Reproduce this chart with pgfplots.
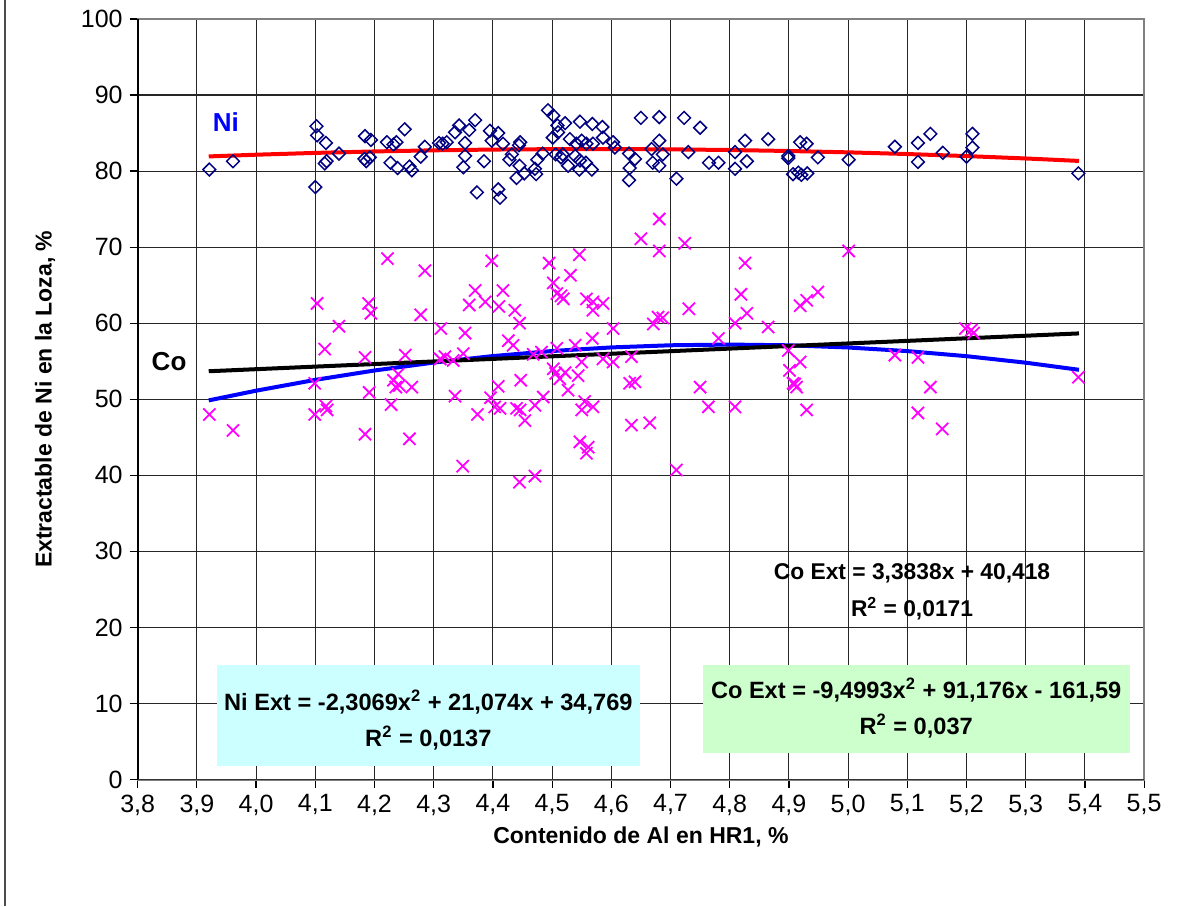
\documentclass[border=0pt]{standalone}
\usepackage{fontspec}
\setmainfont{Liberation Sans}
\usepackage{pgfplots}
\pgfplotsset{compat=1.18}
\definecolor{navyd}{HTML}{000080}
\definecolor{magx}{HTML}{FF00FF}
\definecolor{cyanbox}{HTML}{CCFFFF}
\definecolor{greenbox}{HTML}{CCFFCC}
\begin{document}
\begin{tikzpicture}
\begin{axis}[
  at={(0pt,0pt)}, anchor=south west,
  scale only axis, width=503.2pt, height=380.25pt,
  xmin=3.8, xmax=5.5, ymin=0, ymax=100,
  xtick={3.8,3.9,4.0,4.1,4.2,4.3,4.4,4.5,4.6,4.7,4.8,4.9,5.0,5.1,5.2,5.3,5.4,5.5},
  ytick={0,10,20,30,40,50,60,70,80,90,100},
  xtick pos=bottom, ytick pos=left,
  tick align=outside, major tick length=4pt,
  /pgf/number format/assume math mode=true,
  xticklabel style={/pgf/number format/.cd, fixed, fixed zerofill, precision=1, use comma, assume math mode=true},
  yticklabel style={/pgf/number format/.cd, fixed, precision=0, assume math mode=true},
  tick label style={font=\fontsize{12.5}{14}\selectfont, black},
  tick style={black, line width=0.6pt},
  grid=major,
  major grid style={black!85, line width=0.55pt},
  axis line style={black!50, line width=1pt},
  xlabel={Contenido de Al en HR1, \%},
  ylabel={Extractable de Ni en la Loza, \%},
  label style={font=\bfseries\fontsize{11.5}{13}\selectfont},
  xlabel style={at={(axis description cs:0.5,-0.0761)}, anchor=center},
  ylabel style={at={(axis description cs:-0.092,0.5)}, anchor=center},
  clip=false,
]
% Ni data
\addplot[only marks, mark=square, mark size=2.25pt, mark options={rotate=45, draw=navyd, line width=0.75pt, fill=none}] coordinates {
(3.921,80.2)(3.961,81.3)(4.102,85.9)(4.103,84.7)(4.118,83.7)(4.100,77.9)(4.119,81.3)(4.116,81.0)
(4.140,82.3)(4.184,84.6)(4.194,84.1)(4.183,81.6)(4.192,81.8)(4.186,81.3)(4.221,83.8)(4.237,83.8)
(4.232,83.5)(4.251,85.5)(4.227,81.1)(4.239,80.4)(4.259,80.6)(4.263,80.1)(4.278,81.9)(4.285,83.2)
(4.309,83.7)(4.315,83.6)(4.322,83.8)(4.336,85.1)(4.343,86.0)(4.370,86.7)(4.360,85.4)(4.353,83.7)
(4.353,82.0)(4.350,80.5)(4.373,77.2)(4.385,81.3)(4.398,84.0)(4.395,85.3)(4.409,85.0)(4.417,83.6)
(4.409,77.6)(4.412,76.5)(4.446,83.8)(4.444,83.4)(4.432,82.2)(4.428,81.5)(4.445,80.7)(4.453,79.7)
(4.440,79.1)(4.471,80.3)(4.473,79.6)(4.475,81.5)(4.484,82.3)(4.493,88.0)(4.502,87.3)(4.509,86.0)
(4.501,84.4)(4.510,85.1)(4.522,86.3)(4.506,82.2)(4.515,81.8)(4.518,82.2)(4.527,80.7)(4.530,84.2)
(4.547,86.5)(4.568,86.2)(4.585,85.8)(4.541,83.6)(4.550,84.0)(4.558,83.6)(4.569,83.6)(4.539,82.0)
(4.547,81.4)(4.557,81.1)(4.546,80.2)(4.567,80.2)(4.586,84.4)(4.603,83.8)(4.606,83.1)(4.630,82.3)
(4.640,81.6)(4.631,80.4)(4.630,78.8)(4.650,87.0)(4.681,87.1)(4.681,84.0)(4.668,82.9)(4.687,82.2)
(4.670,81.1)(4.681,80.7)(4.710,79.0)(4.723,87.0)(4.730,82.5)(4.750,85.7)(4.765,81.1)(4.781,81.1)
(4.809,82.5)(4.809,80.3)(4.826,84.0)(4.829,81.3)(4.865,84.2)(4.899,82.0)(4.899,81.7)(4.919,83.8)
(4.930,83.6)(4.949,81.8)(4.907,79.6)(4.916,79.8)(4.921,79.5)(4.931,79.7)(5.001,81.5)(5.079,83.2)
(5.118,83.7)(5.118,81.2)(5.139,84.9)(5.160,82.4)(5.200,81.9)(5.210,84.9)(5.210,83.1)(5.389,79.7)
};
% Co data
\addplot[only marks, mark=x, mark size=4.3pt, mark options={draw=magx, line width=0.9pt}] coordinates {
(3.921,48.0)(3.961,45.9)(4.103,62.6)(4.116,56.6)(4.099,52.1)(4.099,48.0)(4.118,49.1)(4.120,48.6)
(4.140,59.6)(4.222,68.5)(4.285,66.9)(4.190,62.6)(4.194,61.3)(4.184,55.5)(4.191,50.9)(4.228,49.3)
(4.184,45.4)(4.259,44.8)(4.252,55.8)(4.232,52.5)(4.240,53.3)(4.236,51.6)(4.242,51.8)(4.263,51.6)
(4.278,61.1)(4.312,59.3)(4.311,55.3)(4.319,55.6)(4.333,55.1)(4.350,56.0)(4.353,58.7)(4.336,50.4)
(4.370,64.3)(4.360,62.4)(4.387,62.8)(4.398,68.2)(4.374,48.0)(4.349,41.2)(4.396,50.2)(4.417,64.3)
(4.410,62.2)(4.437,61.7)(4.445,60.0)(4.426,57.7)(4.434,57.1)(4.409,51.7)(4.403,49.0)(4.412,48.8)
(4.447,52.5)(4.440,48.8)(4.446,48.6)(4.454,47.2)(4.471,49.2)(4.485,50.3)(4.445,39.1)(4.471,39.9)
(4.495,67.9)(4.502,65.3)(4.508,63.9)(4.519,63.2)(4.515,63.6)(4.546,69.0)(4.531,66.3)(4.558,63.2)
(4.569,62.8)(4.586,62.6)(4.569,61.7)(4.468,55.9)(4.482,56.2)(4.508,56.7)(4.539,57.1)(4.568,58.0)
(4.502,54.0)(4.513,52.7)(4.522,53.5)(4.506,53.4)(4.550,54.9)(4.544,53.1)(4.527,51.2)(4.586,55.3)
(4.603,59.3)(4.603,54.9)(4.634,55.6)(4.555,49.7)(4.550,48.6)(4.569,49.0)(4.631,52.1)(4.640,52.3)
(4.634,46.6)(4.665,46.9)(4.547,44.4)(4.561,43.7)(4.558,42.9)(4.650,71.1)(4.681,73.7)(4.681,69.5)
(4.724,70.5)(4.731,61.9)(4.671,59.9)(4.679,60.8)(4.687,60.7)(4.710,40.7)(4.750,51.6)(4.764,49.0)
(4.781,58.0)(4.809,60.0)(4.819,63.8)(4.829,61.3)(4.826,67.9)(4.809,49.0)(4.865,59.5)(4.901,53.8)
(4.899,56.4)(4.919,54.9)(4.907,52.1)(4.913,51.6)(4.910,52.0)(4.930,48.6)(4.919,62.3)(4.930,63.0)
(4.949,64.1)(5.001,69.5)(5.079,55.8)(5.118,55.5)(5.139,51.6)(5.118,48.2)(5.159,46.1)(5.198,59.3)
(5.208,59.1)(5.212,58.7)(5.389,52.9)
};
% Ni polynomial trend (values typed)
\addplot[red, line width=2pt] coordinates {
(3.92,81.930)(4.0,82.155)(4.1,82.393)(4.2,82.586)(4.3,82.732)(4.4,82.833)(4.5,82.887)(4.6,82.895)
(4.7,82.858)(4.8,82.773)(4.9,82.643)(5.0,82.466)(5.1,82.244)(5.2,81.975)(5.3,81.661)(5.39,81.337)
};
% Co polynomial trend
\addplot[blue, line width=2pt] coordinates {
(3.92,49.850)(4.0,51.125)(4.1,52.549)(4.2,53.781)(4.3,54.825)(4.4,55.678)(4.5,56.341)(4.6,56.815)
(4.7,57.097)(4.8,57.191)(4.9,57.094)(5.0,56.807)(5.1,56.331)(5.2,55.664)(5.3,54.808)(5.39,53.874)
};
% Co linear trend
\addplot[black, line width=2pt] coordinates {(3.92,53.682)(5.39,58.657)};
% axes lines left / bottom
\draw[black, line width=0.9pt] (rel axis cs:0,0) -- (rel axis cs:0,1);
\draw[black!80, line width=0.9pt] (rel axis cs:0,0) -- (rel axis cs:1,0);
% labels
\node[text=blue, font=\bfseries\fontsize{13}{15}\selectfont] at (axis cs:3.949,86.5) {Ni};
\node[text=black, font=\bfseries\fontsize{13}{15}\selectfont] at (axis cs:3.853,54.9) {Co};
\node[align=center, font=\bfseries\fontsize{11.4}{18.5}\selectfont] at (axis cs:5.108,24.7)
  {Co Ext = 3,3838x + 40,418\\R\textsuperscript{2} = 0,0171};
\fill[cyanbox] (axis cs:3.934,1.78) rectangle (axis cs:4.649,15.06);
\node[align=center, font=\bfseries\fontsize{11.8}{18}\selectfont] at (axis cs:4.291,7.83)
  {Ni Ext = -2,3069x\textsuperscript{2} + 21,074x + 34,769\\R\textsuperscript{2} = 0,0137};
\fill[greenbox] (axis cs:4.755,3.48) rectangle (axis cs:5.476,15.06);
\node[align=center, font=\bfseries\fontsize{11.8}{18}\selectfont] at (axis cs:5.115,9.40)
  {Co Ext = -9,4993x\textsuperscript{2} + 91,176x - 161,59\\R\textsuperscript{2} = 0,037};
\end{axis}
\draw[black!70, line width=1pt] (-66.35pt,-63.25pt) -- (-66.35pt,389.75pt);
\pgfresetboundingbox
\path[use as bounding box] (-68.85pt,-63.25pt) rectangle (522.65pt,389.75pt);
\end{tikzpicture}
\end{document}
